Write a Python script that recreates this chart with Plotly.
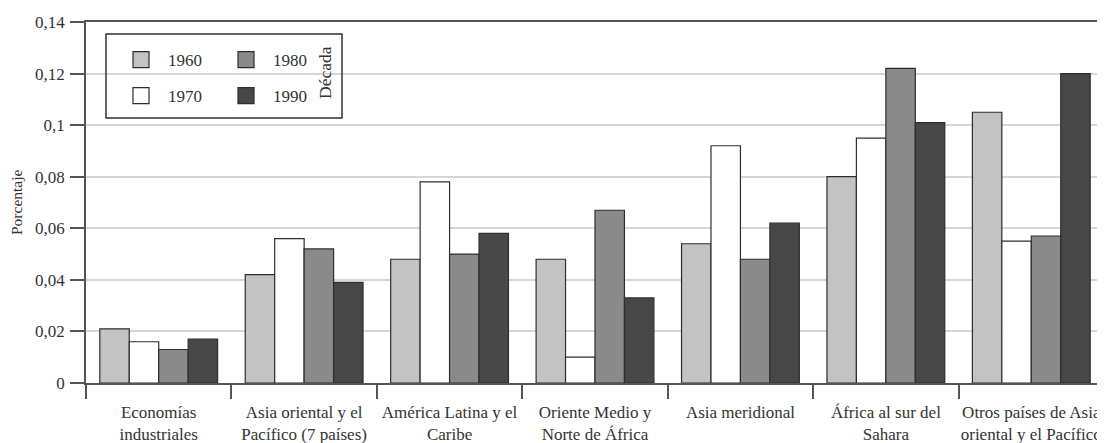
import plotly.graph_objects as go

categories = [
    "Economías<br>industriales",
    "Asia oriental y el<br>Pacífico (7 países)",
    "América Latina y el<br>Caribe",
    "Oriente Medio y<br>Norte de África",
    "Asia meridional",
    "África al sur del<br>Sahara",
    "Otros países de Asia<br>oriental y el Pacífico",
]
decades = ["1960", "1970", "1980", "1990"]
v1960 = [0.021, 0.042, 0.048, 0.048, 0.054, 0.080, 0.105]
v1970 = [0.016, 0.056, 0.078, 0.010, 0.092, 0.095, 0.055]
v1980 = [0.013, 0.052, 0.050, 0.067, 0.048, 0.122, 0.057]
v1990 = [0.017, 0.039, 0.058, 0.033, 0.062, 0.101, 0.120]
series = [v1960, v1970, v1980, v1990]
colors = ["#c3c3c3", "#ffffff", "#8a8a8a", "#474747"]
legend_of = ["legend", "legend", "legend2", "legend2"]

FONT = "Liberation Serif"

# page body has an 8px margin: figure coords = page coords - 8
W, H = 1097, 435
L, T, B, R = 78, 14, 60, 1
PW = W - L - R
PH = H - T - B


def px(xp):
    return (xp - 8 - L) / PW


def py(yp):
    return (H - B - (yp - 8)) / PH


fig = go.Figure()
for name, vals, col in zip(decades, series, colors):
    fig.add_trace(go.Bar(
        x=categories, y=vals, name=name, showlegend=False,
        marker=dict(color=col, line=dict(color="#2e2e2e", width=1.2)),
    ))
# legend entries (square swatches)
for name, col, lg in zip(decades, colors, legend_of):
    fig.add_trace(go.Scatter(
        x=[None], y=[None], mode="markers", name=name, legend=lg,
        legendgroup=name,
        marker=dict(symbol="square", size=16, color=col,
                    line=dict(color="#2e2e2e", width=1.2)),
    ))

yticks = [0, 0.02, 0.04, 0.06, 0.08, 0.1, 0.12, 0.14]
ylabels = ["0", "0,02", "0,04", "0,06", "0,08", "0,1", "0,12", "0,14"]

leg_common = dict(orientation="v", font=dict(size=17, family=FONT, color="#333333"),
                  bgcolor="rgba(0,0,0,0)", tracegroupgap=11, itemwidth=44,
                  xanchor="left", yanchor="top")

fig.update_layout(
    width=W, height=H,
    margin=dict(l=L, r=R, t=T, b=B, autoexpand=False),
    paper_bgcolor="white", plot_bgcolor="white",
    font=dict(family=FONT, color="#333333", size=15),
    barmode="group", bargap=0.19, bargroupgap=0,
    legend=dict(x=px(114), y=py(42), **leg_common),
    legend2=dict(x=px(219), y=py(42), **leg_common),
    shapes=[dict(type="rect", xref="paper", yref="paper",
                 x0=px(106), x1=px(342), y0=py(118), y1=py(34),
                 line=dict(color="#333333", width=1.5),
                 fillcolor="rgba(0,0,0,0)")],
    annotations=[
        dict(text="Década", textangle=-90, xref="paper", yref="paper",
             x=px(325), y=py(73), showarrow=False,
             xanchor="center", yanchor="middle",
             font=dict(size=17.5, family=FONT, color="#333333")),
        dict(text="Porcentaje", textangle=-90, xref="paper", yref="paper",
             x=px(16), y=py(202), showarrow=False,
             xanchor="center", yanchor="middle",
             font=dict(size=15.5, family=FONT, color="#333333")),
    ],
)
fig.update_xaxes(
    type="category", showline=True, linecolor="#555555", linewidth=1.5,
    mirror=True, ticks="outside", tickson="boundaries", ticklen=14,
    tickcolor="#555555", tickwidth=1.5, showgrid=False,
    tickangle=0, automargin=False, ticklabelstandoff=13,
    tickfont=dict(size=17, family=FONT, color="#333333"),
)
fig.update_yaxes(
    range=[0, 0.14], tickvals=yticks, ticktext=ylabels,
    showline=True, linecolor="#555555", linewidth=1.5,
    ticks="outside", ticklen=14, tickcolor="#555555", tickwidth=1.5,
    showgrid=True, gridcolor="#d6d6d6", gridwidth=1.5, zeroline=False,
    automargin=False, ticklabelstandoff=2,
    tickfont=dict(size=17, family=FONT, color="#333333"),
)
fig.write_html("out.html")
